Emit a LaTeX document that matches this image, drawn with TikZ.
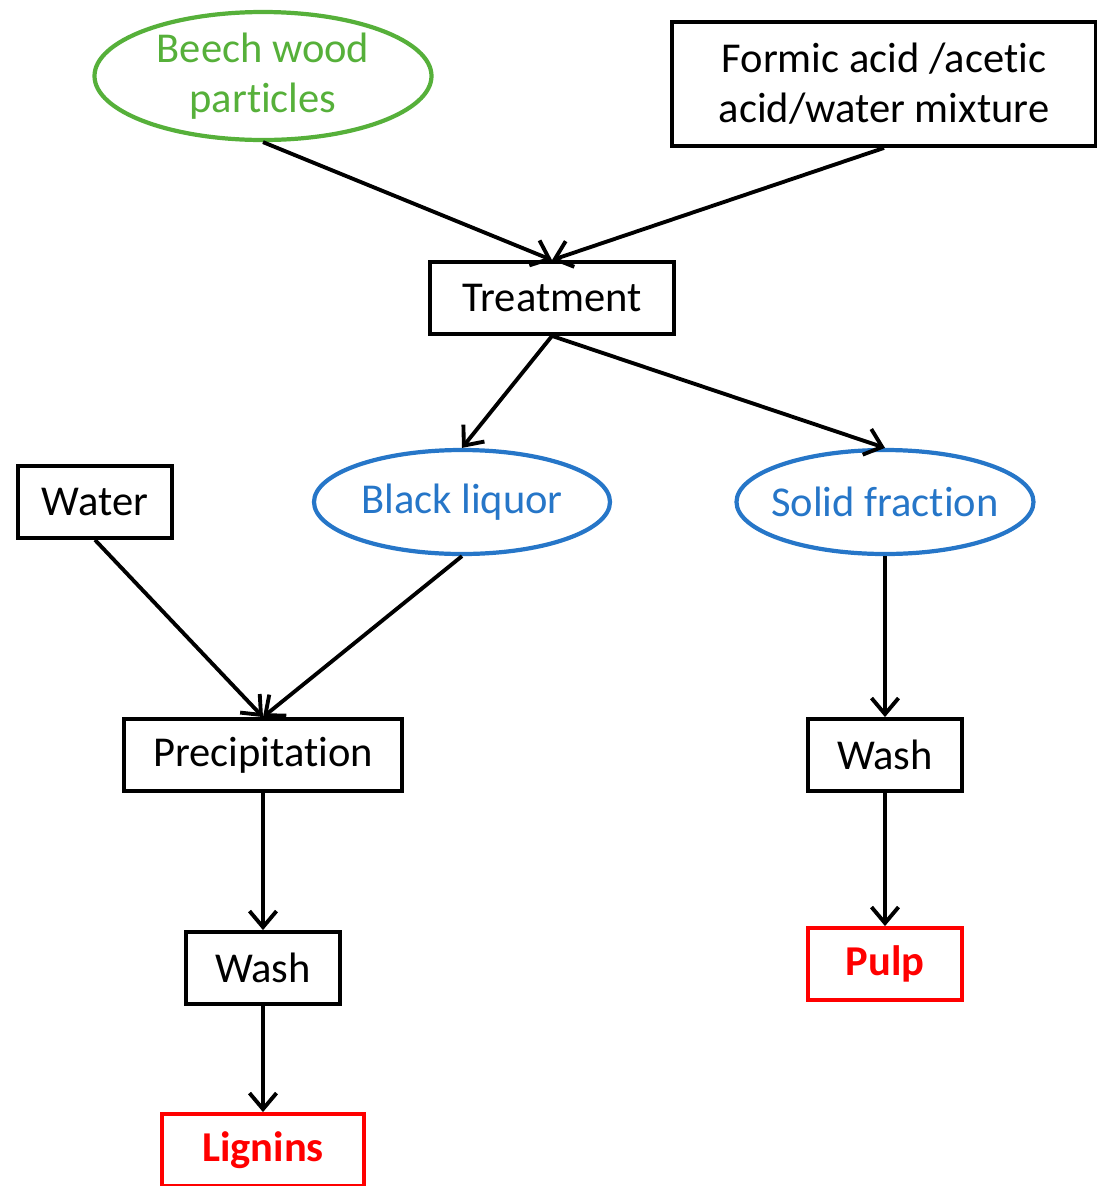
\documentclass[tikz,border=0pt]{standalone}
\usepackage{fontspec}
\setmainfont{Carlito}[Ligatures=NoCommon]
\usepackage{tikz}
\usetikzlibrary{shapes.geometric, arrows.meta, positioning}
\definecolor{woodcolor}{RGB}{86,176,58}
\definecolor{liquorcolor}{RGB}{38,118,200}
\definecolor{productcolor}{RGB}{255,0,0}

\begin{document}
\begin{tikzpicture}[
    box/.style={draw, line width=2.2pt, minimum width=#1, minimum height=1.44cm, inner sep=0pt, align=center, font=\fontsize{24.2}{28.5}\selectfont},
    oval/.style={ellipse, draw=#1, text=#1, line width=2.4pt, inner xsep=-5pt, inner ysep=0pt, align=center, font=\fontsize{24.2}{28.5}\selectfont},
    product/.style={box=#1, draw=productcolor, text=productcolor, font=\fontsize{24.2}{28.5}\selectfont\bfseries},
    arrow/.style={-{Straight Barb[length=3.2mm, width=5.4mm, line width=2.2pt]}, line width=2.2pt}
]
    \useasboundingbox (0,0) rectangle (21.94,-23.72);

    \node[oval=woodcolor, minimum width=6.74cm, minimum height=2.56cm] (beech) at (5.26,-1.52) {Beech wood\\particles};
    \node[box=8.48cm, minimum height=2.48cm] (acid) at (17.68,-1.68) {Formic acid /acetic\\acid/water mixture};
    \node[box=4.88cm] (treat) at (11.04,-5.96) {Treatment};

    \node[box=3.08cm] (water) at (1.9,-10.04) {Water};
    \node[oval=liquorcolor, minimum width=5.92cm, minimum height=2.08cm] (liquor) at (9.24,-10.04) {Black liquor};
    \node[oval=liquorcolor, minimum width=5.94cm, minimum height=2.08cm] (solid) at (17.7,-10.04) {Solid fraction};

    \node[box=5.56cm] (precip) at (5.26,-15.1) {Precipitation};
    \node[box=3.08cm] (washR) at (17.7,-15.1) {Wash};
    \node[box=3.08cm] (washL) at (5.26,-19.36) {Wash};
    \node[product=3.08cm] (pulp) at (17.7,-19.28) {Pulp};
    \node[product=4.04cm] (lignin) at (5.26,-23.0) {Lignins};

    \draw[arrow] (beech.south) -- (treat.north);
    \draw[arrow] (acid.south) -- (treat.north);
    \draw[arrow] (treat.south) -- (liquor.north);
    \draw[arrow] (treat.south) -- (solid.north);

    % Lignin branch
    \draw[arrow] (water.south) -- (precip.north);
    \draw[arrow] (liquor.south) -- (precip.north);
    \draw[arrow] (precip) -- (washL);
    \draw[arrow] (washL) -- (lignin);

    % Pulp branch
    \draw[arrow] (solid) -- (washR);
    \draw[arrow] (washR) -- (pulp);
\end{tikzpicture}
\end{document}
